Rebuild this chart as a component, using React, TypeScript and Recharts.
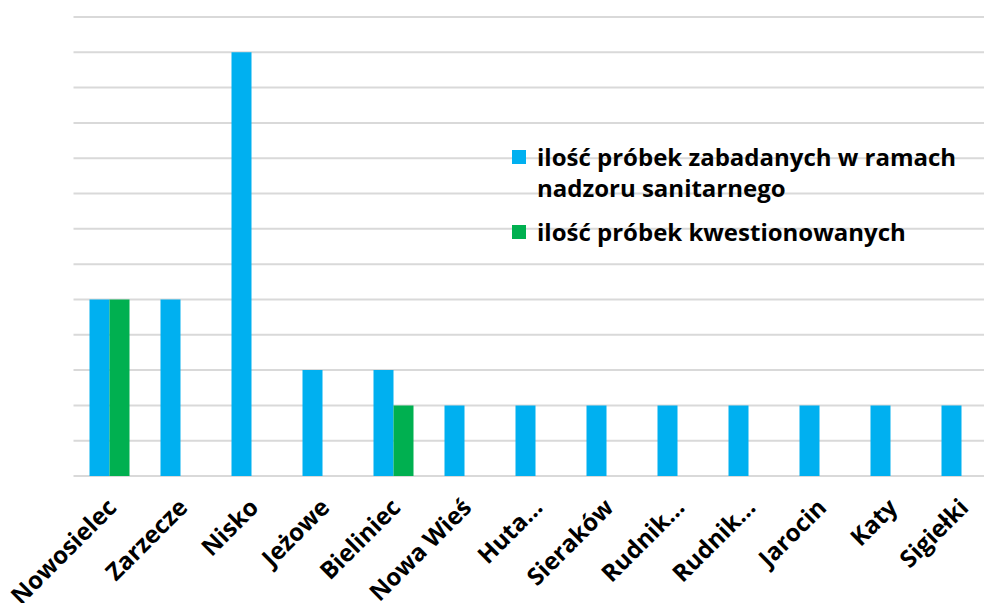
import React from "react";
import { BarChart, Bar, XAxis, YAxis, CartesianGrid, Legend } from "recharts";

const categories = [
  "Nowosielec",
  "Zarzecze",
  "Nisko",
  "Jeżowe",
  "Bieliniec",
  "Nowa Wieś",
  "Huta…",
  "Sieraków",
  "Rudnik…",
  "Rudnik…",
  "Jarocin",
  "Katy",
  "Sigiełki",
];
const sampled = [5, 5, 12, 3, 3, 2, 2, 2, 2, 2, 2, 2, 2];
const questioned = [5, 0, 0, 0, 2, 0, 0, 0, 0, 0, 0, 0, 0];
const seriesNames = [
  "ilość próbek zabadanych w ramach nadzoru sanitarnego",
  "ilość próbek kwestionowanych",
];
const yTicks = [0, 1, 2, 3, 4, 5, 6, 7, 8, 9, 10, 11, 12, 13];

const BLUE = "#00b0f0";
const GREEN = "#00b050";
const FONT = "'Open Sans', sans-serif";

const data = categories.map((c, i) => ({
  id: i,
  name: c,
  sampled: sampled[i],
  questioned: questioned[i],
}));

const Tick = (props: any) => {
  const { x, y, payload } = props;
  const ax = x + 9;
  const ay = y + 33;
  return (
    <text
      x={ax}
      y={ay}
      transform={`rotate(-45, ${ax}, ${ay})`}
      textAnchor="end"
      fontFamily={FONT}
      fontWeight={700}
      fontSize={24}
      fill="#000"
    >
      {categories[payload.value]}
    </text>
  );
};

const EmptyTick = () => <g />;

const LegendContent = () => {
  const colors = [BLUE, GREEN];
  return (
    <div style={{ fontFamily: FONT, fontWeight: 700, fontSize: 24, lineHeight: "31px", color: "#000" }}>
      {seriesNames.map((n, i) => (
        <div key={i} style={{ display: "flex", alignItems: "flex-start", marginBottom: 13 }}>
          <div style={{ width: 14, height: 14, background: colors[i], marginTop: 8.5, marginRight: 11, flexShrink: 0 }} />
          <div style={{ width: 440 }}>{n}</div>
        </div>
      ))}
    </div>
  );
};

export default function App() {
  return (
    <div style={{ position: "absolute", left: 0, top: 0, width: 984, height: 603, overflow: "hidden", background: "#fff" }}>
      <BarChart
        width={1000}
        height={603}
        data={data}
        margin={{ top: 17, right: 3.5, bottom: 0, left: 73.5 }}
        barSize={20}
        barGap={0}
      >
        <CartesianGrid vertical={false} stroke="#d9d9d9" strokeWidth={2} />
        <XAxis
          dataKey="id"
          type="category"
          height={127}
          interval={0}
          axisLine={false}
          tickLine={false}
          tickSize={0}
          tickMargin={0}
          tick={<Tick />}
        />
        <YAxis
          type="number"
          domain={[0, 13]}
          ticks={yTicks}
          interval={0}
          width={0}
          tick={<EmptyTick />}
          axisLine={false}
          tickLine={false}
        />
        <Legend
          layout="vertical"
          align="center"
          verticalAlign="middle"
          content={<LegendContent />}
          wrapperStyle={{ position: "absolute", left: 512, top: 141, width: 470 }}
        />
        <Bar dataKey="sampled" name={seriesNames[0]} fill={BLUE} isAnimationActive={false} />
        <Bar dataKey="questioned" name={seriesNames[1]} fill={GREEN} isAnimationActive={false} />
      </BarChart>
    </div>
  );
}
